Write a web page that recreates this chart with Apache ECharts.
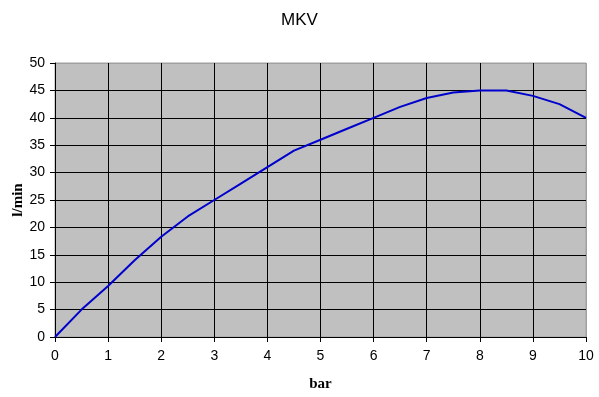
<!DOCTYPE html>
<html>
<head>
<meta charset="utf-8">
<script src="https://cdn.jsdelivr.net/npm/echarts@6/dist/echarts.min.js"></script>
<style>
html,body{margin:0;padding:0;background:#fff;}
#c{width:599px;height:397px;}
</style>
</head>
<body>
<div id="c"></div>
<script>
var pressure = [0, 0.5, 1, 1.5, 2, 2.5, 3, 3.5, 4, 4.5, 5, 5.5, 6, 6.5, 7, 7.5, 8, 8.5, 9, 9.5, 10];
var flow = [0, 5, 9.3, 14, 18.3, 22, 25, 28, 31, 34, 36, 38, 40, 42, 43.6, 44.6, 45, 45, 44, 42.5, 40];
var chartTitle = 'MKV';
var xName = 'bar';
var yName = 'l/min';

var data = pressure.map(function (p, i) { return [p, flow[i]]; });
var font = 'Liberation Sans, Arial, sans-serif';
var serif = 'Liberation Serif, Times New Roman, serif';
var chart = echarts.init(document.getElementById('c'), null, {renderer: 'canvas'});
var ySplit = []; for (var i = 0; i < 10; i++) ySplit.push('#000'); ySplit.push('#a0a0a0');
var xSplit = []; for (var j = 0; j < 10; j++) xSplit.push('#000'); xSplit.push('#a0a0a0');
chart.setOption({
  animation: false,
  backgroundColor: '#fff',
  title: {
    text: chartTitle, left: 'center', top: 7,
    textStyle: {fontFamily: font, fontSize: 17, fontWeight: 'normal', color: '#000'}
  },
  grid: {
    left: 55, top: 63, right: 13, bottom: 60,
    containLabel: false, outerBoundsMode: 'none',
    show: true, backgroundColor: '#c0c0c0', borderColor: '#a0a0a0', borderWidth: 1
  },
  xAxis: {
    type: 'value', min: 0, max: 10, interval: 1,
    name: xName, nameLocation: 'middle', nameGap: 40, nameMoveOverlap: false,
    nameTextStyle: {fontFamily: serif, fontSize: 15, fontWeight: 'bold', color: '#000'},
    axisLine: {show: true, onZero: false, lineStyle: {color: '#000', width: 1}},
    axisTick: {show: true, inside: false, length: 5, lineStyle: {color: '#000'}},
    axisLabel: {fontFamily: font, fontSize: 14, color: '#000', margin: 12},
    splitLine: {show: true, lineStyle: {color: xSplit, width: 1}}
  },
  yAxis: {
    type: 'value', min: 0, max: 50, interval: 5,
    name: yName, nameLocation: 'middle', nameGap: 29, nameRotate: 90, nameMoveOverlap: false,
    nameTextStyle: {fontFamily: serif, fontSize: 15, fontWeight: 'bold', color: '#000'},
    axisLine: {show: true, onZero: false, lineStyle: {color: '#000', width: 1}},
    axisTick: {show: true, inside: false, length: 5, lineStyle: {color: '#000'}},
    axisLabel: {fontFamily: font, fontSize: 14, color: '#000', margin: 10},
    splitLine: {show: true, lineStyle: {color: ySplit, width: 1}}
  },
  series: [{
    type: 'line', data: data, showSymbol: false, smooth: false,
    lineStyle: {color: '#0000cc', width: 2}
  }]
});
</script>
</body>
</html>
